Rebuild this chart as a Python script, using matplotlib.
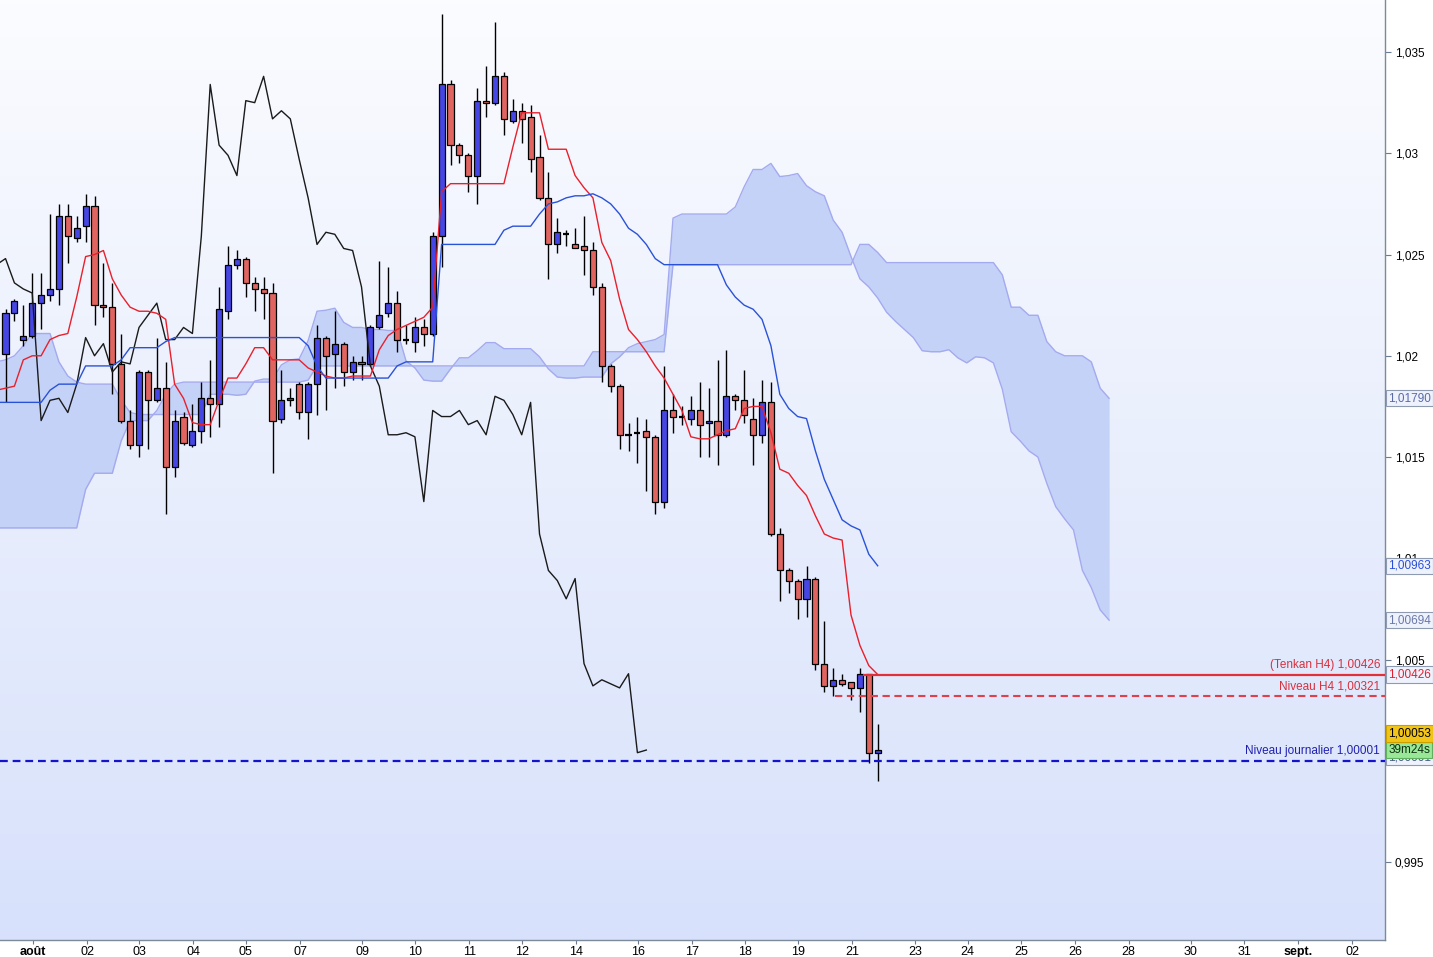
import numpy as np
import matplotlib.pyplot as plt
from matplotlib.colors import LinearSegmentedColormap

plt.rcParams['font.family'] = ['Liberation Sans Narrow', 'Liberation Sans', 'DejaVu Sans']

# H4 candles, oldest first
opens = [1.0201, 1.0221, 1.0208, 1.0210, 1.0226, 1.0230, 1.0233, 1.0269, 1.0258, 1.0264,
         1.0274, 1.0225, 1.0224, 1.0196, 1.0168, 1.0156, 1.0192, 1.0178, 1.0184, 1.0145,
         1.0170, 1.0156, 1.0163, 1.0179, 1.0176, 1.0222, 1.0245, 1.0248, 1.0236, 1.0233,
         1.0231, 1.0169, 1.0178, 1.0186, 1.0172, 1.0186, 1.0209, 1.0201, 1.0206, 1.0192,
         1.0197, 1.0196, 1.0214, 1.0221, 1.0226, 1.0208, 1.0207, 1.0214, 1.0211, 1.0259,
         1.0334, 1.0304, 1.0299, 1.0289, 1.0326, 1.0325, 1.0338, 1.0316, 1.0321, 1.0318,
         1.0298, 1.0278, 1.0255, 1.0260, 1.0255, 1.0254, 1.0252, 1.0234, 1.0195, 1.0185,
         1.0161, 1.0162, 1.0163, 1.0160, 1.0128, 1.0173, 1.0170, 1.0169, 1.0173, 1.0167,
         1.0168, 1.0161, 1.0180, 1.0178, 1.0169, 1.0161, 1.0177, 1.0112, 1.0094, 1.0089,
         1.0080, 1.0090, 1.0048, 1.0037, 1.0040, 1.0039, 1.0036, 1.0043, 1.00038]
highs = [1.0223, 1.0228, 1.0225, 1.0241, 1.0241, 1.0270, 1.0275, 1.0275, 1.0269, 1.0280,
         1.0279, 1.0246, 1.0236, 1.0211, 1.0173, 1.0193, 1.0193, 1.0209, 1.0197, 1.0173,
         1.0172, 1.0176, 1.0187, 1.0198, 1.0234, 1.0254, 1.0252, 1.0249, 1.0239, 1.0239,
         1.0236, 1.0193, 1.0184, 1.0187, 1.0187, 1.0215, 1.0210, 1.0222, 1.0207, 1.0200,
         1.0200, 1.0215, 1.0247, 1.0244, 1.0232, 1.0215, 1.0219, 1.0218, 1.0261, 1.0369,
         1.0336, 1.0305, 1.0300, 1.0332, 1.0343, 1.0365, 1.0340, 1.0327, 1.0325, 1.0324,
         1.0309, 1.0291, 1.0268, 1.0262, 1.0263, 1.0269, 1.0256, 1.0236, 1.0196, 1.0186,
         1.0167, 1.0170, 1.0169, 1.0161, 1.0195, 1.0181, 1.0175, 1.0180, 1.0187, 1.0184,
         1.0198, 1.0203, 1.0181, 1.0193, 1.0179, 1.0188, 1.0187, 1.0115, 1.0095, 1.0090,
         1.0096, 1.0091, 1.0069, 1.0046, 1.0043, 1.0039, 1.0046, 1.0043, 1.0018]
lows = [1.0177, 1.0217, 1.0205, 1.0209, 1.0213, 1.0227, 1.0225, 1.0246, 1.0256, 1.0256,
        1.0215, 1.0219, 1.0181, 1.0167, 1.0154, 1.0150, 1.0154, 1.0177, 1.0122, 1.0140,
        1.0156, 1.0155, 1.0157, 1.0160, 1.0165, 1.0218, 1.0243, 1.0229, 1.0222, 1.0218,
        1.0142, 1.0167, 1.0175, 1.0169, 1.0159, 1.0171, 1.0173, 1.0184, 1.0185, 1.0188,
        1.0188, 1.0195, 1.0213, 1.0219, 1.0202, 1.0206, 1.0202, 1.0205, 1.0210, 1.0244,
        1.0294, 1.0295, 1.0281, 1.0275, 1.0318, 1.0324, 1.0309, 1.0315, 1.0305, 1.0291,
        1.0277, 1.0238, 1.0251, 1.0254, 1.0253, 1.0240, 1.0230, 1.0187, 1.0182, 1.0154,
        1.0153, 1.0147, 1.0133, 1.0122, 1.0125, 1.0162, 1.0166, 1.0166, 1.0150, 1.0150,
        1.0146, 1.0160, 1.0173, 1.0167, 1.0146, 1.0157, 1.0111, 1.0079, 1.0083, 1.0070,
        1.0071, 1.0045, 1.0034, 1.0032, 1.0037, 1.0030, 1.0024, 0.9999, 0.9990]
closes = [1.0221, 1.0227, 1.0210, 1.0226, 1.0230, 1.0233, 1.0269, 1.0259, 1.0263, 1.0274,
          1.0225, 1.0224, 1.0196, 1.0168, 1.0156, 1.0192, 1.0178, 1.0184, 1.0145, 1.0168,
          1.0157, 1.0163, 1.0179, 1.0176, 1.0223, 1.0245, 1.0248, 1.0236, 1.0233, 1.0231,
          1.0168, 1.0178, 1.0179, 1.0172, 1.0186, 1.0209, 1.0200, 1.0206, 1.0192, 1.0197,
          1.0196, 1.0214, 1.0220, 1.0226, 1.0208, 1.0208, 1.0214, 1.0211, 1.0259, 1.0334,
          1.0304, 1.0299, 1.0289, 1.0326, 1.0325, 1.0338, 1.0317, 1.0321, 1.0317, 1.0297,
          1.0278, 1.0255, 1.0261, 1.0260, 1.0253, 1.0252, 1.0234, 1.0195, 1.0185, 1.0161,
          1.0161, 1.0162, 1.0160, 1.0128, 1.0173, 1.0170, 1.0170, 1.0173, 1.0166, 1.0168,
          1.0161, 1.0180, 1.0178, 1.0171, 1.0161, 1.0177, 1.0112, 1.0094, 1.0089, 1.0080,
          1.0090, 1.0048, 1.0037, 1.0040, 1.0038, 1.0036, 1.0043, 1.0004, 1.00053]
close_before = 1.0245   # candle just off the left edge (feeds the lagging line)

tenkan = [1.0184, 1.0185, 1.0198, 1.0200, 1.0200, 1.0208, 1.0210, 1.0211, 1.0229, 1.0249,
          1.0250, 1.0252, 1.0238, 1.0230, 1.0224, 1.0222, 1.0222, 1.0221, 1.0218, 1.0186,
          1.0179, 1.0167, 1.0166, 1.0166, 1.0178, 1.0189, 1.0189, 1.0196, 1.0204, 1.0204,
          1.0198, 1.0198, 1.0198, 1.0198, 1.0194, 1.0192, 1.0190, 1.0189, 1.0189, 1.0190,
          1.0190, 1.0190, 1.0203, 1.0210, 1.0213, 1.0215, 1.0217, 1.0219, 1.0224, 1.0281,
          1.0285, 1.0285, 1.0285, 1.0285, 1.0285, 1.0285, 1.0285, 1.0303, 1.0320, 1.0320,
          1.0320, 1.0302, 1.0302, 1.0302, 1.0289, 1.0283, 1.0278, 1.0256, 1.0247, 1.0228,
          1.0213, 1.0208, 1.0202, 1.0195, 1.0189, 1.0181, 1.0173, 1.0160, 1.0159, 1.0159,
          1.0161, 1.0163, 1.0164, 1.0174, 1.0175, 1.0175, 1.0162, 1.0144, 1.0142, 1.0136,
          1.0131, 1.0121, 1.0112, 1.0110, 1.0109, 1.0072, 1.0057, 1.0047, 1.00426]
tenkan_before = 1.0183
kijun = ([1.0177] * 5 + [1.0183] + [1.0186] * 3 + [1.0195] * 4 + [1.0198] + [1.0204] * 4
         + [1.0207] + [1.0209] * 15 + [1.0205, 1.0195] + [1.0189] * 8 + [1.0195]
         + [1.0197] * 4 + [1.0255] * 7 + [1.0262] + [1.0264] * 3
         + [1.0270, 1.0275, 1.0276, 1.0278, 1.0279, 1.0279, 1.0280, 1.0278, 1.0275, 1.0270,
            1.0263, 1.0260, 1.0255, 1.0248]
         + [1.0245] * 7
         + [1.0235, 1.0229, 1.0225, 1.0223, 1.0218, 1.0205, 1.0181, 1.0174, 1.0170, 1.0169,
            1.0153, 1.0139, 1.0129, 1.0119, 1.0116, 1.0114, 1.0102, 1.00963])
kijun_before = 1.0177

# senkou A before the first visible candle (from older data), then (tenkan+kijun)/2
span_a_head = ([1.0197, 1.0198, 1.0200, 1.0205, 1.0211, 1.0211, 1.0211, 1.0197, 1.0190, 1.0187]
               + [1.0186] * 4 + [1.0178, 1.0172] + [1.0171] * 8 + [1.0181] * 3)
# senkou B, starting one candle before the first visible one
span_b = ([1.0115] * 10 + [1.0134] + [1.0142] * 3 + [1.0158] + [1.0168] * 3
          + [1.0173, 1.0181, 1.0186] + [1.0187] * 14 + [1.0188] + [1.0195] * 31
          + [1.0202] * 9 + [1.0245] * 21 + [1.0255] * 2 + [1.0251] + [1.0246] * 13
          + [1.0240, 1.0224, 1.0224, 1.0220, 1.0220, 1.0207, 1.0202, 1.0200, 1.0200,
             1.0200, 1.0197, 1.0184, 1.01790])

level_tenkan = 1.00426
level_h4 = 1.00321
level_daily = 1.00001

day_labels = ['août', '02', '03', '04', '05', '07', '09', '10', '11', '12', '14', '16', '17',
              '18', '19', '21', '23', '24', '25', '26', '28', '30', '31', 'sept.', '02']
day_pos = [3.1, 9.2, 15.0, 21.1, 27.0, 33.1, 40.1, 46.0, 52.1, 58.0, 64.1, 71.1, 77.1,
           83.1, 89.1, 95.1, 102.2, 108.1, 114.1, 120.2, 126.2, 133.2, 139.2, 145.2, 151.3]
price_ticks = [1.035, 1.03, 1.025, 1.02, 1.015, 1.01, 1.005, 0.995]
price_labels = ['1,035', '1,03', '1,025', '1,02', '1,015', '1,01', '1,005', '0,995']

o = np.array(opens)
h = np.array(highs)
l = np.array(lows)
c = np.array(closes)
n = len(c)
shift = 26
idx = np.arange(n)
line_idx = np.arange(-1, n)
span_idx = np.arange(-1, n + shift)
tk = np.array([tenkan_before] + tenkan)
kj = np.array([kijun_before] + kijun)
span_a = np.concatenate([span_a_head, (np.array(tenkan) + np.array(kijun)) / 2])
span_b = np.array(span_b)
chikou = np.concatenate([[close_before], c[shift:]])


def fr(v):
    return f'{v:.5f}'.replace('.', ',')


fig = plt.figure(figsize=(14.33, 9.57), dpi=100, facecolor='white')
ax = fig.add_axes([0, 17 / 957, 1385 / 1433, 940 / 957])
x0, x1 = -0.62, 155.0
y0, y1 = 0.99115, 1.03757
ax.set_xlim(x0, x1)
ax.set_ylim(y0, y1)

# background gradient
bg = LinearSegmentedColormap.from_list('bg', ['#fbfcff', '#d7e1fb'])
ax.imshow(np.linspace(0, 1, 256).reshape(-1, 1), cmap=bg, aspect='auto',
          extent=[x0, x1, y0, y1], origin='upper', zorder=0)

# kumo
ax.fill_between(span_idx, span_a, span_b, color='#c5d2f8', lw=0, zorder=1)
ax.plot(span_idx, span_a, color='#a3aaee', lw=1, zorder=1.5)
ax.plot(span_idx, span_b, color='#a3aaee', lw=1, zorder=1.5)

# candles
ax.vlines(idx, l, h, color='black', lw=1, zorder=3)
up = c > o
dn = c < o
eq = c == o
w = 0.68
ax.bar(idx[up], (c - o)[up], bottom=o[up], width=w, color='#4646e4',
       edgecolor='black', lw=0.9, zorder=3.5)
ax.bar(idx[dn], (o - c)[dn], bottom=c[dn], width=w, color='#e0645f',
       edgecolor='black', lw=0.9, zorder=3.5)
ax.hlines(c[eq], idx[eq] - w / 2, idx[eq] + w / 2, color='black', lw=1.6, zorder=3.5)

# ichimoku lines
ax.plot(np.arange(-1, n - shift), chikou, color='#1a1a1a', lw=1, zorder=4)
ax.plot(line_idx, tk, color='#e8202c', lw=1, zorder=4)
ax.plot(line_idx, kj, color='#2a52d8', lw=1, zorder=4)

# levels
ax.hlines(level_tenkan, 96.3, x1, color='#e0303a', lw=1.6, zorder=5)
ax.hlines(level_h4, 93.2, x1, color='#e0404a', lw=1.5, linestyles=(0, (3.5, 2.2)), zorder=5)
ax.hlines(level_daily, x0, x1, color='#1414cc', lw=1.6, linestyles=(0, (3.5, 2.2)), zorder=5)

ytr = ax.get_yaxis_transform()
for val, txt, col in [(level_tenkan, '(Tenkan H4) ' + fr(level_tenkan), '#d8303e'),
                      (level_h4, 'Niveau H4 ' + fr(level_h4), '#d8303e'),
                      (level_daily, 'Niveau journalier ' + fr(level_daily), '#2020b0')]:
    ax.annotate(txt, xy=(0.9964, val), xycoords=ytr, xytext=(0, 2.5),
                textcoords='offset points', ha='right', va='bottom', fontsize=8.5,
                color=col, zorder=6)

# axes styling
for s in ['top', 'left']:
    ax.spines[s].set_visible(False)
for s in ['right', 'bottom']:
    ax.spines[s].set_color('#7d8a9c')
    ax.spines[s].set_linewidth(1)
ax.yaxis.tick_right()
ax.set_yticks(price_ticks)
ax.set_yticklabels(price_labels)
ax.set_yticks([span_b[-1], kijun[-1], span_a[-1], level_tenkan], minor=True)
ax.tick_params(axis='y', which='both', length=4, color='#6a7a90', labelsize=8.5, pad=3)
ax.set_xticks(day_pos)
ax.set_xticklabels(day_labels)
for lab in ax.get_xticklabels():
    if lab.get_text() in ('août', 'sept.'):
        lab.set_fontweight('bold')
ax.tick_params(axis='x', length=3, color='#6a7a90', labelsize=9, pad=1.5)


def box(val, txt, tc, fc, ec, dy=0, z=10):
    ax.annotate(txt, xy=(1.0025, val), xycoords=ytr, xytext=(0, dy),
                textcoords='offset points', ha='left', va='center', fontsize=8.5,
                color=tc, annotation_clip=False, zorder=z,
                bbox=dict(boxstyle='square,pad=0.18', fc=fc, ec=ec, lw=0.8))


box(span_b[-1], fr(span_b[-1]), '#5a6aa8', '#eef2fc', '#8d9ab0')
box(kijun[-1], fr(kijun[-1]), '#2a4fd6', '#eef2fc', '#8d9ab0')
box(span_a[-1], fr(span_a[-1]), '#6a78a8', '#eef2fc', '#8d9ab0')
box(level_tenkan, fr(level_tenkan), '#e02030', '#eef2fc', '#8d9ab0')
box(level_daily, fr(level_daily), '#4a5a90', '#eef2fc', '#8d9ab0', dy=2.5, z=10)
box(c[-1], '39m24s', '#103010', '#98e898', '#60b060', dy=0, z=11)
box(c[-1], fr(c[-1]), 'black', '#f2c418', '#c9a000', dy=11.9, z=12)

fig.savefig('out.png', dpi=100, facecolor='white')
